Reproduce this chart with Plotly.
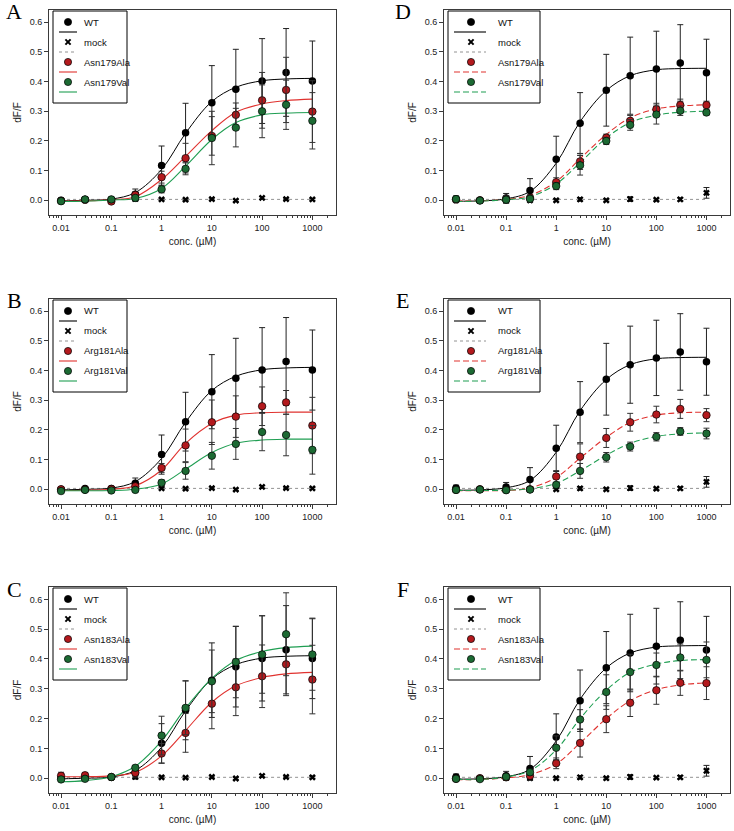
import plotly.graph_objects as go
from plotly.subplots import make_subplots

conc = [0.01, 0.03, 0.1, 0.3, 1, 3, 10, 30, 100, 300, 1000]
tick_vals = [0.01, 0.1, 1, 10, 100, 1000]
tick_text = ["0.01", "0.1", "1", "10", "100", "1000"]
y_ticks = [0.0, 0.1, 0.2, 0.3, 0.4, 0.5, 0.6]

# ---- left column (A, B, C) shared WT / mock ----
wt_left = [0.0, 0.003, 0.003, 0.02, 0.117, 0.228, 0.329, 0.374, 0.402, 0.431, 0.402]
wt_left_err = [0.005, 0.005, 0.005, 0.018, 0.066, 0.099, 0.125, 0.135, 0.143, 0.148, 0.135]
wt_left_fit = [-0.002, 0.0, 0.004, 0.026, 0.104, 0.226, 0.333, 0.381, 0.403, 0.409, 0.411]
mock_left = [0.0, 0.0, 0.002, 0.005, 0.003, 0.002, 0.004, -0.001, 0.008, 0.004, 0.003]
mock_left_err = [0.003, 0.003, 0.003, 0.008, 0.003, 0.003, 0.003, 0.003, 0.004, 0.003, 0.003]

# ---- right column (D, E, F) shared WT / mock ----
wt_right = [0.004, 0.0, 0.008, 0.033, 0.138, 0.26, 0.371, 0.42, 0.443, 0.463, 0.43]
wt_right_err = [0.01, 0.008, 0.015, 0.04, 0.078, 0.103, 0.121, 0.13, 0.127, 0.129, 0.113]
wt_right_fit = [-0.003, -0.002, 0.005, 0.03, 0.125, 0.265, 0.37, 0.42, 0.44, 0.444, 0.445]
mock_right = [0.0, 0.0, 0.002, 0.0, 0.0, 0.003, 0.0, 0.004, 0.002, 0.003, 0.025]
mock_right_err = [0.003, 0.003, 0.003, 0.004, 0.003, 0.006, 0.003, 0.008, 0.003, 0.005, 0.018]

mock_fit_conc = [0.01, 1000]
mock_fit = [0.003, 0.003]

# ---- Panel A ----
a_ala = [-0.002, 0.002, -0.004, 0.018, 0.078, 0.142, 0.217, 0.288, 0.337, 0.372, 0.299]
a_ala_err = [0.004, 0.004, 0.004, 0.01, 0.02, 0.05, 0.065, 0.04, 0.094, 0.11, 0.104]
a_ala_fit = [-0.003, -0.002, 0.002, 0.012, 0.07, 0.148, 0.235, 0.297, 0.325, 0.336, 0.341]
a_val = [-0.003, 0.003, 0.003, 0.008, 0.037, 0.106, 0.21, 0.245, 0.30, 0.322, 0.268]
a_val_err = [0.004, 0.004, 0.004, 0.006, 0.012, 0.02, 0.09, 0.065, 0.089, 0.083, 0.095]
a_val_fit = [-0.004, -0.003, 0.001, 0.006, 0.04, 0.115, 0.205, 0.262, 0.288, 0.294, 0.296]

# ---- Panel B ----
b_ala = [0.0, -0.001, 0.001, 0.01, 0.072, 0.148, 0.226, 0.245, 0.28, 0.293, 0.215]
b_ala_err = [0.004, 0.004, 0.004, 0.006, 0.015, 0.055, 0.075, 0.07, 0.065, 0.04, 0.095]
b_ala_fit = [-0.004, -0.003, 0.0, 0.012, 0.065, 0.155, 0.222, 0.25, 0.258, 0.26, 0.26]
b_val = [-0.006, -0.002, -0.004, -0.002, 0.022, 0.062, 0.113, 0.153, 0.193, 0.183, 0.133]
b_val_err = [0.004, 0.004, 0.004, 0.004, 0.01, 0.028, 0.045, 0.052, 0.063, 0.07, 0.082]
b_val_fit = [-0.005, -0.005, -0.004, 0.0, 0.018, 0.068, 0.124, 0.155, 0.166, 0.169, 0.169]

# ---- Panel C ----
c_ala = [0.008, 0.01, 0.004, 0.018, 0.083, 0.152, 0.25, 0.305, 0.342, 0.382, 0.331]
c_ala_err = [0.012, 0.008, 0.005, 0.012, 0.033, 0.065, 0.084, 0.095, 0.105, 0.105, 0.115]
c_ala_fit = [0.005, 0.005, 0.008, 0.02, 0.075, 0.16, 0.255, 0.31, 0.338, 0.35, 0.355]
c_val = [-0.004, -0.002, 0.004, 0.035, 0.143, 0.236, 0.325, 0.39, 0.415, 0.483, 0.415]
c_val_err = [0.005, 0.005, 0.005, 0.008, 0.065, 0.09, 0.105, 0.12, 0.13, 0.139, 0.12]
c_val_fit = [-0.012, -0.008, 0.005, 0.04, 0.125, 0.235, 0.335, 0.395, 0.425, 0.438, 0.443]

# ---- Panel D ----
d_ala = [0.003, 0.0, 0.003, 0.008, 0.061, 0.131, 0.211, 0.268, 0.307, 0.321, 0.321]
d_ala_err = [0.01, 0.008, 0.012, 0.01, 0.015, 0.027, 0.012, 0.018, 0.02, 0.02, 0.013]
d_ala_fit = [-0.003, -0.002, 0.003, 0.017, 0.063, 0.14, 0.222, 0.278, 0.308, 0.318, 0.322]
d_val = [0.004, -0.001, 0.002, 0.005, 0.048, 0.118, 0.2, 0.254, 0.289, 0.302, 0.296]
d_val_err = [0.01, 0.008, 0.012, 0.01, 0.012, 0.033, 0.012, 0.018, 0.032, 0.016, 0.008]
d_val_fit = [-0.004, -0.003, 0.002, 0.012, 0.055, 0.127, 0.21, 0.262, 0.287, 0.297, 0.3]

# ---- Panel E ----
e_ala = [-0.002, 0.0, -0.002, 0.0, 0.043, 0.11, 0.173, 0.226, 0.252, 0.271, 0.25]
e_ala_err = [0.006, 0.006, 0.008, 0.006, 0.02, 0.043, 0.032, 0.03, 0.028, 0.032, 0.022]
e_ala_fit = [-0.005, -0.005, -0.004, 0.005, 0.04, 0.105, 0.175, 0.225, 0.25, 0.258, 0.26]
e_val = [-0.002, -0.001, -0.003, -0.001, 0.015, 0.062, 0.108, 0.144, 0.177, 0.195, 0.188]
e_val_err = [0.006, 0.006, 0.008, 0.006, 0.008, 0.025, 0.016, 0.015, 0.014, 0.013, 0.018]
e_val_fit = [-0.004, -0.004, -0.003, 0.002, 0.02, 0.062, 0.115, 0.155, 0.178, 0.187, 0.19]

# ---- Panel F ----
f_ala = [-0.002, 0.0, 0.003, 0.008, 0.05, 0.118, 0.198, 0.253, 0.295, 0.32, 0.319]
f_ala_err = [0.006, 0.006, 0.008, 0.008, 0.018, 0.047, 0.045, 0.046, 0.047, 0.042, 0.055]
f_ala_fit = [-0.005, -0.004, 0.001, 0.012, 0.048, 0.118, 0.2, 0.26, 0.297, 0.313, 0.32]
f_val = [-0.002, -0.003, 0.005, 0.02, 0.102, 0.197, 0.289, 0.356, 0.38, 0.405, 0.397]
f_val_err = [0.006, 0.006, 0.008, 0.01, 0.04, 0.033, 0.058, 0.06, 0.04, 0.045, 0.06]
f_val_fit = [-0.004, -0.004, 0.004, 0.025, 0.095, 0.2, 0.295, 0.355, 0.383, 0.395, 0.398]

# ---- styling ----
FONT = "Liberation Sans, Arial, sans-serif"
RED_FILL, GREEN_FILL = "#b3191d", "#1c6a33"
RED_LINE, GREEN_LINE = "#e0322f", "#1f9e52"
AXIS_C = "#3a3a3a"
MOCK_LINE = "#777777"

W, H = 734, 831
col_px = [(49, 336), (444, 730)]
row_px = [(10, 215), (299, 504), (587, 793)]

panels = [
    (0, 0, "A", "left", (a_ala, a_ala_err, a_ala_fit), (a_val, a_val_err, a_val_fit), ("Asn179Ala", "Asn179Val")),
    (0, 1, "D", "right", (d_ala, d_ala_err, d_ala_fit), (d_val, d_val_err, d_val_fit), ("Asn179Ala", "Asn179Val")),
    (1, 0, "B", "left", (b_ala, b_ala_err, b_ala_fit), (b_val, b_val_err, b_val_fit), ("Arg181Ala", "Arg181Val")),
    (1, 1, "E", "right", (e_ala, e_ala_err, e_ala_fit), (e_val, e_val_err, e_val_fit), ("Arg181Ala", "Arg181Val")),
    (2, 0, "C", "left", (c_ala, c_ala_err, c_ala_fit), (c_val, c_val_err, c_val_fit), ("Asn183Ala", "Asn183Val")),
    (2, 1, "F", "right", (f_ala, f_ala_err, f_ala_fit), (f_val, f_val_err, f_val_fit), ("Asn183Ala", "Asn183Val")),
]

fig = make_subplots(rows=3, cols=2)

minor_vals = [m * 10 ** e for e in range(-3, 4) for m in range(2, 10)]

shapes = []
annotations = []

for (r, c, letter, side, ala, val, names) in panels:
    n = r * 2 + c + 1
    sfx = "" if n == 1 else str(n)
    dashed = (c == 1)
    if side == "left":
        wt, wt_err, wt_fit, mk, mk_err = wt_left, wt_left_err, wt_left_fit, mock_left, mock_left_err
    else:
        wt, wt_err, wt_fit, mk, mk_err = wt_right, wt_right_err, wt_right_fit, mock_right, mock_right_err

    row, col = r + 1, c + 1
    fig.add_trace(go.Scatter(x=mock_fit_conc, y=mock_fit, mode="lines",
                             line=dict(color=MOCK_LINE, width=0.8, dash="dot"),
                             showlegend=False, hoverinfo="skip"), row=row, col=col)
    fig.add_trace(go.Scatter(x=conc, y=wt_fit, mode="lines",
                             line=dict(color="black", width=1, shape="spline", smoothing=1),
                             showlegend=False, hoverinfo="skip"), row=row, col=col)
    dash = "6px,3px" if dashed else "solid"
    fig.add_trace(go.Scatter(x=conc, y=ala[2], mode="lines",
                             line=dict(color=RED_LINE, width=1.1, shape="spline", smoothing=1, dash=dash),
                             showlegend=False, hoverinfo="skip"), row=row, col=col)
    fig.add_trace(go.Scatter(x=conc, y=val[2], mode="lines",
                             line=dict(color=GREEN_LINE, width=1.1, shape="spline", smoothing=1, dash=dash),
                             showlegend=False, hoverinfo="skip"), row=row, col=col)
    fig.add_trace(go.Scatter(x=conc, y=mk, mode="markers", name="mock",
                             marker=dict(symbol="x", size=6, color="black", line=dict(width=0)),
                             error_y=dict(type="data", array=mk_err, color="#222", thickness=1, width=3),
                             showlegend=False), row=row, col=col)
    fig.add_trace(go.Scatter(x=conc, y=wt, mode="markers", name="WT",
                             marker=dict(symbol="circle", size=7.5, color="black"),
                             error_y=dict(type="data", array=wt_err, color="#222", thickness=1, width=3),
                             showlegend=False), row=row, col=col)
    fig.add_trace(go.Scatter(x=conc, y=ala[0], mode="markers", name=names[0],
                             marker=dict(symbol="circle", size=7.5, color=RED_FILL, line=dict(color="black", width=0.7)),
                             error_y=dict(type="data", array=ala[1], color="#333", thickness=1, width=3),
                             showlegend=False), row=row, col=col)
    fig.add_trace(go.Scatter(x=conc, y=val[0], mode="markers", name=names[1],
                             marker=dict(symbol="circle", size=7.5, color=GREEN_FILL, line=dict(color="black", width=0.7)),
                             error_y=dict(type="data", array=val[1], color="#333", thickness=1, width=3),
                             showlegend=False), row=row, col=col)

    x0p, x1p = col_px[c]
    y0p, y1p = row_px[r]
    aw, ah = x1p - x0p, y1p - y0p
    fig.update_xaxes(domain=[x0p / W, x1p / W], row=row, col=col)
    fig.update_yaxes(domain=[1 - y1p / H, 1 - y0p / H], row=row, col=col)

    lx = 14 if c == 0 else 403
    ly = [12, 300, 589][r]
    annotations.append(dict(text=letter, xref="paper", yref="paper", x=lx / W, y=1 - ly / H,
                            xanchor="center", yanchor="middle", showarrow=False,
                            font=dict(family="Liberation Serif, Times New Roman, serif", size=22, color="black")))

    # legend drawn as in the original: marker row, then a line-sample row
    xr, yr = f"x{sfx} domain", f"y{sfx} domain"
    wide = (c == 1)
    lg_left, lg_top = 4, 1
    lg_w = 92 if wide else 74
    lg_h = 92
    fx = lambda px: (lg_left + px) / aw
    fy = lambda py: 1 - (lg_top + py) / ah
    shapes.append(dict(type="rect", xref=xr, yref=yr, x0=fx(0), x1=fx(lg_w), y0=fy(0), y1=fy(lg_h),
                       line=dict(color="black", width=1), fillcolor="white", layer="above"))
    mx = 23 if wide else 15
    lx0, lx1 = (6, 38) if wide else (6, 24)
    tx = 48 if wide else 29
    items = [
        ("WT", "circle", "black", "black", "solid"),
        ("mock", "x", "black", MOCK_LINE, "dot"),
        (names[0], "circle", RED_FILL, RED_LINE, "dash" if dashed else "solid"),
        (names[1], "circle", GREEN_FILL, GREEN_LINE, "dash" if dashed else "solid"),
    ]
    for i, (nm, sym, fill, lcol, ldash) in enumerate(items):
        my = 11 + 20 * i
        lyy = 21 + 20 * i
        if sym == "circle":
            shapes.append(dict(type="circle", xref=xr, yref=yr, xsizemode="pixel", ysizemode="pixel",
                               xanchor=fx(mx), yanchor=fy(my), x0=-3.6, x1=3.6, y0=-3.6, y1=3.6,
                               fillcolor=fill, line=dict(color="black", width=0.7), layer="above"))
        else:
            for (a0, a1) in [(-2.6, 2.6), (2.6, -2.6)]:
                shapes.append(dict(type="line", xref=xr, yref=yr, xsizemode="pixel", ysizemode="pixel",
                                   xanchor=fx(mx), yanchor=fy(my), x0=-2.6, x1=2.6, y0=a0, y1=a1,
                                   line=dict(color="black", width=2), layer="above"))
        ld = {"solid": "solid", "dot": "dot", "dash": "6px,3px"}[ldash]
        shapes.append(dict(type="line", xref=xr, yref=yr, x0=fx(lx0), x1=fx(lx1), y0=fy(lyy), y1=fy(lyy),
                           line=dict(color=lcol, width=1.1 if ldash != "dot" else 0.8, dash=ld), layer="above"))
        annotations.append(dict(text=nm, xref=xr, yref=yr, x=fx(tx), y=fy(my), xanchor="left", yanchor="middle",
                                showarrow=False, font=dict(family=FONT, size=9.5, color="#111")))

fig.update_xaxes(type="log", range=[-2.24, 3.47], tickvals=tick_vals, ticktext=tick_text,
                 showline=True, mirror=True, linecolor=AXIS_C, linewidth=1,
                 ticks="outside", ticklen=4, tickwidth=1, tickcolor=AXIS_C,
                 minor=dict(tickvals=minor_vals, ticks="outside", ticklen=2, tickcolor=AXIS_C, showgrid=False),
                 showgrid=False, zeroline=False,
                 tickfont=dict(family=FONT, size=9, color="#222"),
                 title=dict(text="conc. (µM)", font=dict(family=FONT, size=10, color="#222"), standoff=6))
fig.update_yaxes(range=[-0.0496, 0.6415], tickvals=y_ticks, tickformat=".1f",
                 showline=True, mirror=True, linecolor=AXIS_C, linewidth=1,
                 ticks="outside", ticklen=4, tickwidth=1, tickcolor=AXIS_C,
                 showgrid=False, zeroline=False,
                 tickfont=dict(family=FONT, size=9, color="#222"),
                 title=dict(text="dF/F", font=dict(family=FONT, size=10, color="#222"), standoff=6))

fig.update_layout(width=W, height=H, margin=dict(l=0, r=0, t=0, b=0),
                  paper_bgcolor="white", plot_bgcolor="white",
                  showlegend=False, shapes=shapes, annotations=annotations)

fig.write_html("out.html", config={"displayModeBar": False},
               post_script="document.body.style.margin='0';document.body.style.overflow='hidden';")
